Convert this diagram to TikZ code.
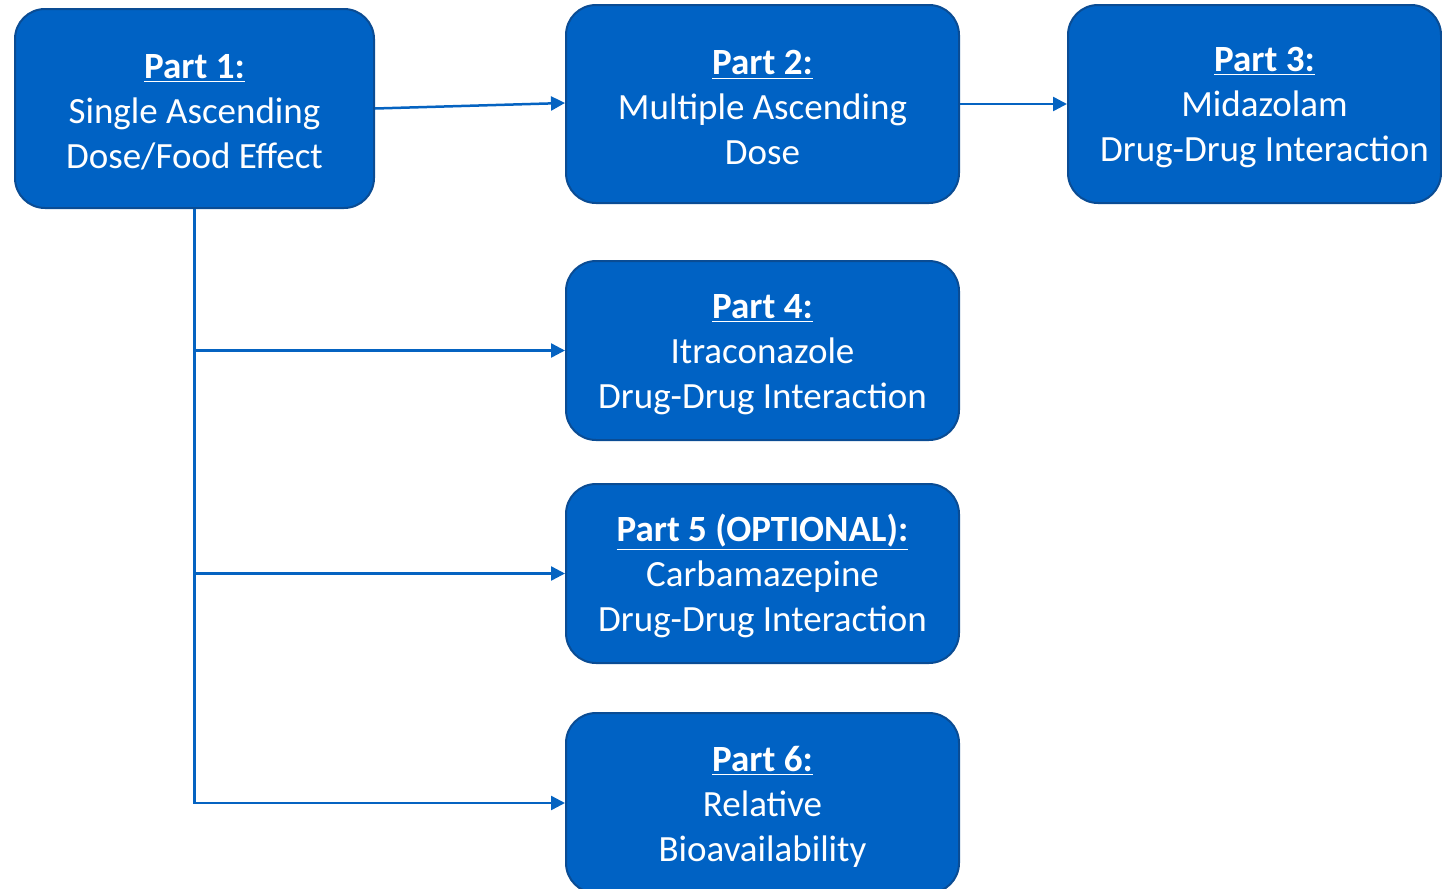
\documentclass[tikz,border=0pt]{standalone}
\usepackage{fontspec}
\setmainfont{Carlito}
\usetikzlibrary{arrows.meta}
\definecolor{boxfill}{HTML}{0062C4}
\definecolor{boxline}{HTML}{0A4C94}
\definecolor{linkblue}{HTML}{0563C1}
\newcommand{\parttitle}[1]{\rule{0pt}{16pt}\underline{\textbf{#1}}}
\begin{document}
\begin{tikzpicture}[x=0.5pt,y=-0.5pt]
        \tikzstyle{partbox}=[draw=boxline, fill=boxfill, line width=1pt, rounded corners=15pt, text=white, align=center, font=\fontsize{18.5}{22.5}\selectfont, inner sep=0pt]
        \tikzstyle{link}=[draw=linkblue, line width=1.25pt, -{Triangle[length=7pt,width=7pt]}]
        \useasboundingbox (0,0) rectangle (1442,889);

        \node[partbox, minimum width=179.5pt, minimum height=99.5pt](p1)at(194.5,108.5){\parttitle{Part 1:}\\Single Ascending\\Dose/Food Effect};
        \node[partbox, minimum width=196.5pt, minimum height=99pt](p2)at(762.5,104){\parttitle{Part 2:}\\Multiple Ascending\\Dose};
        \node[partbox, minimum width=186.5pt, minimum height=99pt](p3)at(1254.5,104){\hspace*{10pt}\parttitle{Part 3:}\\\hspace*{10pt}Midazolam\\\hspace*{10pt}Drug-Drug Interaction};
        \node[partbox, minimum width=196.5pt, minimum height=89.5pt](p4)at(762.5,350.5){\parttitle{Part 4:}\\Itraconazole\\Drug-Drug Interaction};
        \node[partbox, minimum width=196.5pt, minimum height=89.5pt](p5)at(762.5,573.5){\parttitle{Part 5 (OPTIONAL):}\\Carbamazepine\\Drug-Drug Interaction};
        \node[partbox, minimum width=196.5pt, minimum height=90pt](p6)at(762.5,803){\parttitle{Part 6:}\\Relative\\Bioavailability};

        \draw[link] (p1.east) -- ([yshift=0.5pt]p2.west);
        \draw[link] (p2.east) -- (p3.west);
        \draw[link] (p1.south) |- (p4.west);
        \draw[link] (p1.south) |- (p5.west);
        \draw[link] (p1.south) |- (p6.west);
    \end{tikzpicture}
\end{document}
